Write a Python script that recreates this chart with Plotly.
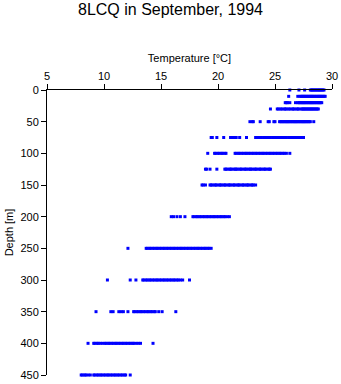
import plotly.graph_objects as go

depths = [0, 10, 20, 30, 50, 75, 100, 125, 150, 200, 250, 300, 350, 400, 450]

temps = [
    [26.3, 27.1, 27.6, 28.1, 28.2, 28.3, 28.4, 28.5, 28.6, 28.7, 28.8, 28.9, 29.0, 29.1, 29.2, 29.3],
    [26.2, 27.0, 27.2, 27.3, 27.4, 27.5, 27.6, 27.7, 27.8, 27.9, 28.0, 28.1, 28.2, 28.3, 28.4, 28.5, 28.6, 28.7,
     28.8, 28.9, 29.0, 29.1, 29.2, 29.3, 29.4],
    [25.9, 26.0, 26.1, 26.3, 26.8, 27.0, 27.1, 27.2, 27.3, 27.4, 27.5, 27.6, 27.7, 27.8, 27.9, 28.0, 28.1,
     28.2, 28.3, 28.4, 28.5, 28.6, 28.7, 28.8, 28.9, 29.0, 29.1],
    [24.6, 25.2, 25.3, 25.5, 25.6, 25.8, 25.9, 26.0, 26.2, 26.3, 26.5, 26.6, 26.7, 26.9, 27.0, 27.1, 27.3,
     27.4, 27.5, 27.6, 27.7, 27.8, 27.9, 28.0, 28.1, 28.2, 28.3, 28.4, 28.5, 28.6, 28.7, 28.8],
    [22.8, 23.0, 23.1, 23.7, 24.4, 24.5, 24.9, 25.0, 25.4, 25.5, 25.6, 25.7, 25.8, 25.9, 26.0, 26.1, 26.2,
     26.3, 26.4, 26.5, 26.6, 26.7, 26.8, 26.9, 27.0, 27.1, 27.2, 27.3, 27.4, 27.5, 27.6, 27.7, 27.8, 27.9,
     28.0, 28.1, 28.4],
    [19.4, 19.5, 19.9, 20.5, 21.1, 21.2, 21.4, 21.6, 21.9, 22.5, 23.3, 23.4, 23.5, 23.7, 23.8, 24.0, 24.1,
     24.2, 24.4, 24.5, 24.6, 24.8, 24.9, 25.0, 25.1, 25.3, 25.4, 25.5, 25.7, 25.8, 25.9, 26.0, 26.2, 26.3,
     26.4, 26.6, 26.7, 26.8, 27.0, 27.1, 27.2, 27.3, 27.5],
    [19.1, 19.7, 19.8, 20.0, 20.1, 20.3, 20.4, 20.6, 20.7, 21.5, 21.6, 21.8, 21.9, 22.1, 22.2, 22.4, 22.5,
     22.7, 22.8, 23.0, 23.1, 23.3, 23.4, 23.6, 23.7, 23.9, 24.0, 24.2, 24.3, 24.5, 24.6, 24.8, 24.9, 25.1,
     25.2, 25.4, 25.5, 25.7, 25.8, 26.0, 26.3],
    [18.9, 19.0, 19.3, 19.9, 20.6, 20.7, 20.8, 21.0, 21.1, 21.2, 21.4, 21.5, 21.6, 21.7, 21.9, 22.0, 22.1,
     22.3, 22.4, 22.5, 22.7, 22.8, 22.9, 23.0, 23.2, 23.3, 23.4, 23.6, 23.7, 23.8, 24.0, 24.1, 24.2, 24.4,
     24.5, 24.6],
    [18.6, 18.7, 18.9, 19.3, 19.4, 19.5, 19.7, 19.8, 19.9, 20.1, 20.2, 20.3, 20.5, 20.6, 20.7, 20.9, 21.0,
     21.1, 21.3, 21.4, 21.5, 21.7, 21.8, 21.9, 22.1, 22.2, 22.3, 22.5, 22.6, 22.7, 22.9, 23.0, 23.1, 23.3],
    [15.9, 16.1, 16.4, 16.7, 17.1, 17.8, 17.9, 18.1, 18.2, 18.4, 18.5, 18.7, 18.8, 19.0, 19.1, 19.3, 19.4,
     19.6, 19.7, 19.9, 20.0, 20.2, 20.3, 20.5, 20.6, 20.8, 21.0],
    [12.1, 13.7, 13.8, 14.0, 14.1, 14.3, 14.4, 14.6, 14.7, 14.9, 15.0, 15.2, 15.3, 15.5, 15.6, 15.8, 15.9,
     16.1, 16.2, 16.4, 16.5, 16.7, 16.8, 17.0, 17.1, 17.3, 17.4, 17.6, 17.7, 17.9, 18.0, 18.2, 18.3, 18.5,
     18.6, 18.8, 18.9, 19.1, 19.2, 19.4],
    [10.3, 12.3, 12.8, 13.4, 13.5, 13.7, 13.8, 14.0, 14.1, 14.3, 14.4, 14.6, 14.7, 14.9, 15.0, 15.2, 15.3,
     15.5, 15.6, 15.8, 15.9, 16.1, 16.2, 16.4, 16.5, 16.7, 16.9, 17.5],
    [9.3, 10.6, 10.8, 11.3, 11.5, 11.7, 12.1, 12.6, 12.7, 12.9, 13.0, 13.2, 13.3, 13.5, 13.6, 13.8, 13.9,
     14.1, 14.2, 14.4, 14.5, 14.8, 15.1, 16.3],
    [8.6, 9.1, 9.2, 9.4, 9.5, 9.7, 9.9, 10.1, 10.2, 10.4, 10.5, 10.7, 10.8, 11.0, 11.1, 11.3, 11.4, 11.6,
     11.7, 11.9, 12.0, 12.2, 12.3, 12.5, 12.6, 12.8, 13.0, 13.2, 14.3],
    [8.0, 8.1, 8.3, 8.4, 8.6, 8.8, 9.1, 9.2, 9.4, 9.5, 9.7, 9.8, 10.0, 10.1, 10.3, 10.4, 10.6, 10.7, 10.9,
     11.0, 11.2, 11.3, 11.5, 11.6, 11.8, 11.9, 12.3],
]

xs, ys = [], []
for d, tl in zip(depths, temps):
    for t in tl:
        xs.append(t)
        ys.append(d)

fig = go.Figure(go.Scatter(
    x=xs, y=ys, mode="markers",
    marker=dict(symbol="square", size=3, color="#0000ff", line=dict(width=0)),
    cliponaxis=False, showlegend=False,
))

font = "Liberation Sans, Arial, sans-serif"
fig.update_layout(
    width=341, height=384,
    margin=dict(l=47, r=9, t=90, b=9, autoexpand=False),
    paper_bgcolor="white", plot_bgcolor="white",
    font=dict(family=font, size=11, color="black"),
    title=dict(text="8LCQ in September, 1994", x=0.5, xanchor="center", y=0.975, yanchor="middle",
               font=dict(size=16, family=font)),
    xaxis=dict(side="top", range=[5, 30], tickvals=[5, 10, 15, 20, 25, 30], automargin=False,
               showline=True, linecolor="black", linewidth=1, ticks="outside", ticklen=5,
               tickcolor="black", showgrid=False, zeroline=False,
               title=dict(text="Temperature [°C]", standoff=4, font=dict(size=11))),
    yaxis=dict(range=[450, 0], tickvals=[0, 50, 100, 150, 200, 250, 300, 350, 400, 450], automargin=False,
               showline=True, linecolor="black", linewidth=1, ticks="outside", ticklen=5,
               tickcolor="black", showgrid=False, zeroline=False,
               title=dict(text="Depth [m]", standoff=4, font=dict(size=11))),
)

fig.write_html("out.html")
